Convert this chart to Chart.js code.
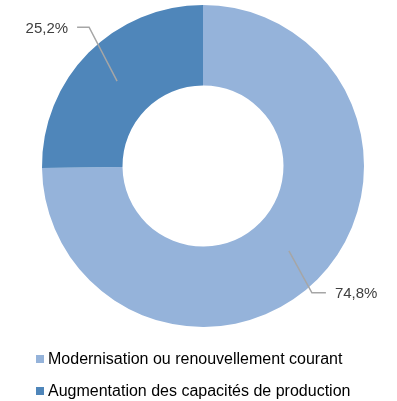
<!DOCTYPE html>
<html>
<head>
<meta charset="utf-8">
<script src="https://cdn.jsdelivr.net/npm/chart.js@4/dist/chart.umd.min.js"></script>
<style>
html, body { margin: 0; padding: 0; background: #fff; }
#wrap { width: 397px; height: 401px; position: relative; }
</style>
</head>
<body>
<div id="wrap"><canvas id="myChart"></canvas></div>
<script>
const categories = ['Modernisation ou renouvellement courant', 'Augmentation des capacités de production']
const shares = [74.8, 25.2]
const colors = ['#95B3DA', '#4F86BA']

function pct(v){
    return v.toFixed(1).replace('.', ',') + '%'
}

// leader line from the middle of each ring slice, elbow, then the value text
const leaderLines = {
    id: 'leaderLines',
    afterDatasetsDraw(chart, args, opts){
        const ctx = chart.ctx
        const arcs = chart.getDatasetMeta(0).data
        ctx.save()
        arcs.forEach((arc, i)=>{
            const p = arc.getProps(['x', 'y', 'startAngle', 'endAngle', 'innerRadius', 'outerRadius'], true)
            const mid = (p.startAngle + p.endAngle) / 2
            const r = (p.innerRadius + p.outerRadius) / 2
            const x0 = p.x + Math.cos(mid) * r
            const y0 = p.y + Math.sin(mid) * r
            const off = opts.offsets[i]
            const side = Math.sign(off.dx)
            const x1 = x0 + off.dx
            const y1 = y0 + off.dy
            const x2 = x1 + side * off.run
            ctx.strokeStyle = '#A6A6A6'
            ctx.lineWidth = 1.5
            ctx.beginPath()
            ctx.moveTo(x0, y0)
            ctx.lineTo(x1, y1)
            ctx.lineTo(x2, y1)
            ctx.stroke()
            ctx.fillStyle = '#404040'
            ctx.font = '15px "Liberation Sans"'
            ctx.textBaseline = 'middle'
            ctx.textAlign = side > 0 ? 'left' : 'right'
            ctx.fillText(pct(shares[i]), x2 + side * 9, y1 + 1.5)
        })
        ctx.restore()
    }
}

// legend as a plain list under the ring
const listLegend = {
    id: 'listLegend',
    afterDraw(chart){
        const ctx = chart.ctx
        const top = chart.chartArea.bottom
        ctx.save()
        ctx.font = '16px "Liberation Sans"'
        ctx.textBaseline = 'alphabetic'
        ctx.textAlign = 'left'
        categories.forEach((c, i)=>{
            const base = top + 37 + i * 32
            ctx.fillStyle = colors[i]
            ctx.fillRect(36, base - 9, 8, 8)
            ctx.fillStyle = '#000'
            ctx.fillText(c, 48, base)
        })
        ctx.restore()
    }
}

const ctx = document.getElementById('myChart')
new Chart(ctx, {
    type: 'doughnut',
    data: {
        labels: categories,
        datasets: [{
            data: shares,
            backgroundColor: colors,
            borderWidth: 0,
            hoverOffset: 0,
            offset: 0
        }]
    },
    options: {
        responsive: true,
        maintainAspectRatio: false,
        animation: false,
        cutout: '50%',
        layout: { padding: { top: 5, left: 9, right: 0, bottom: 74 } },
        plugins: {
            legend: { display: false },
            tooltip: { enabled: false },
            leaderLines: {
                offsets: [
                    { dx: 23, dy: 42, run: 14 },
                    { dx: -28, dy: -54, run: 12 }
                ]
            }
        }
    },
    plugins: [leaderLines, listLegend]
})
</script>
</body>
</html>
